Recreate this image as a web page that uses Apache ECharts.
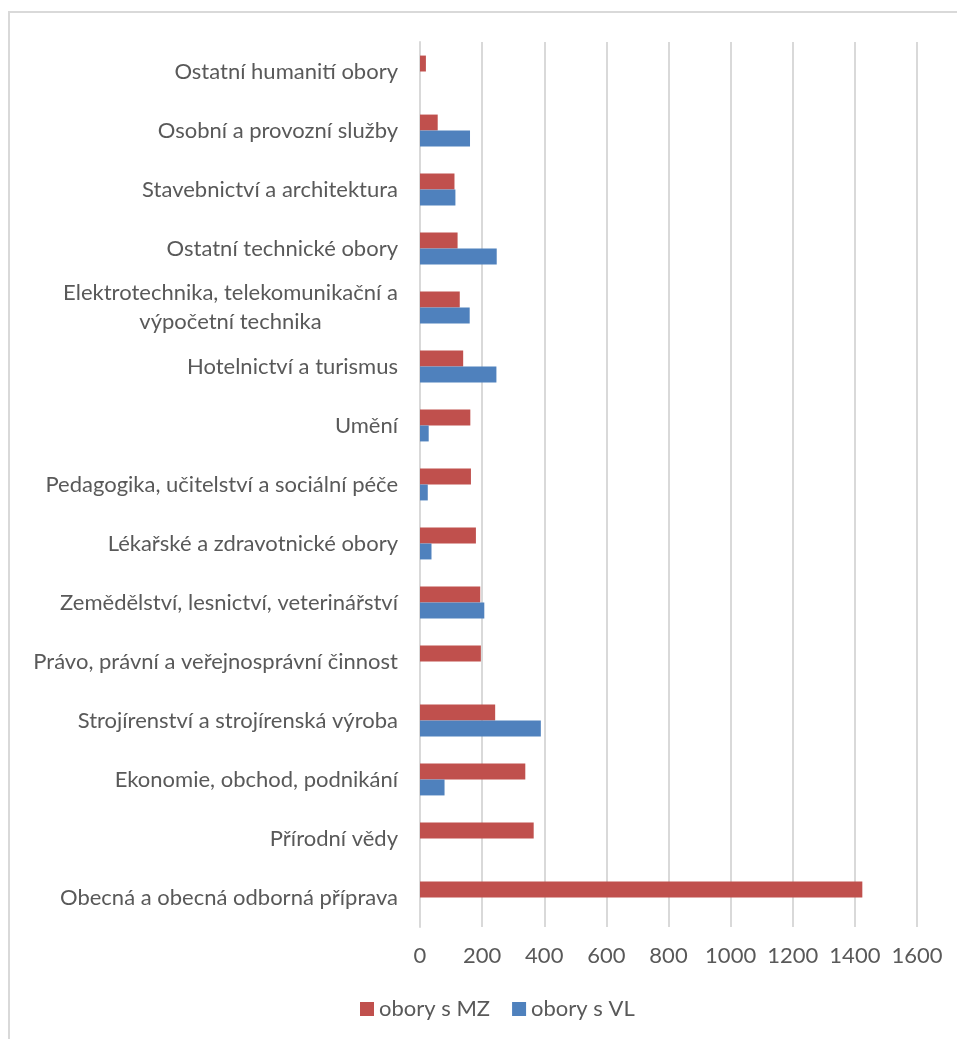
<!DOCTYPE html>
<html>
<head>
<meta charset="utf-8">
<script src="https://cdn.jsdelivr.net/npm/echarts@6/dist/echarts.min.js"></script>
<style>
  html, body { margin: 0; padding: 0; background: #fff; }
  #chart-area { width: 957px; height: 1039px; }
</style>
</head>
<body>
<div id="chart-area"></div>
<script>
// categories listed top to bottom, as in the picture
const categories = [
  'Ostatní humanití obory',
  'Osobní a provozní služby',
  'Stavebnictví a architektura',
  'Ostatní technické obory',
  'Elektrotechnika, telekomunikační a\nvýpočetní technika',
  'Hotelnictví a turismus',
  'Umění',
  'Pedagogika, učitelství a sociální péče',
  'Lékařské a zdravotnické obory',
  'Zemědělství, lesnictví, veterinářství',
  'Právo, právní a veřejnosprávní činnost',
  'Strojírenství a strojírenská výroba',
  'Ekonomie, obchod, podnikání',
  'Přírodní vědy',
  'Obecná a obecná odborná příprava'
];
const oboryMZ = [19, 57, 111, 121, 128, 139, 162, 164, 180, 194, 196, 242, 339, 366, 1424];
const oboryVL = [null, 161, 114, 247, 160, 246, 28, 25, 37, 207, null, 389, 79, null, null];
const seriesNames = ['obory s MZ', 'obory s VL'];

const FONT = 'Lato';
const FS = 22;
const TXT = '#595959';

// width of the widest line of wrapped labels, so the lines can be centred like Excel does
const ctx = document.createElement('canvas').getContext('2d');
ctx.font = FS + 'px ' + FONT;
let wrapWidth = 0;
categories.forEach(c => {
  if (c.indexOf('\n') >= 0) {
    c.split('\n').forEach(l => { wrapWidth = Math.max(wrapWidth, Math.ceil(ctx.measureText(l).width)); });
  }
});

const myChart = echarts.init(document.getElementById('chart-area'));
const option = {
  backgroundColor: '#fff',
  animation: false,
  textStyle: { fontFamily: FONT },
  graphic: [{
    type: 'rect',
    shape: { x: 9, y: 12, width: 1000, height: 1100 },
    style: { fill: 'none', stroke: '#D9D9D9', lineWidth: 2 },
    silent: true
  }],
  legend: {
    data: seriesNames,
    left: 355,
    top: 993,
    itemWidth: 14,
    itemHeight: 14,
    itemGap: 22,
    icon: 'rect',
    textStyle: { color: TXT, fontSize: FS, fontFamily: FONT }
  },
  grid: { left: 420, right: 40, top: 42, bottom: 112, containLabel: false },
  xAxis: {
    type: 'value',
    min: 0,
    max: 1600,
    interval: 200,
    axisLine: { show: false },
    axisTick: { show: false },
    splitLine: { lineStyle: { color: '#D9D9D9', width: 2 } },
    axisLabel: {
      color: TXT, fontSize: FS, fontFamily: FONT, margin: 18,
      formatter: function (v) { return String(v); }
    }
  },
  yAxis: {
    type: 'category',
    inverse: true,
    data: categories,
    axisLine: { lineStyle: { color: '#D9D9D9', width: 2 } },
    axisTick: { show: false },
    axisLabel: {
      color: TXT,
      fontSize: FS,
      fontFamily: FONT,
      margin: 22,
      lineHeight: 29,
      formatter: function (v) {
        if (v.indexOf('\n') < 0) return v;
        return v.split('\n').map(l => '{c|' + l + '}').join('\n');
      },
      rich: {
        c: { width: wrapWidth, align: 'center', color: TXT, fontSize: FS, fontFamily: FONT, lineHeight: 29 }
      }
    }
  },
  series: [
    {
      name: seriesNames[0],
      type: 'bar',
      data: oboryMZ,
      barGap: '0%',
      barCategoryGap: '46%',
      itemStyle: { color: '#C0504D' }
    },
    {
      name: seriesNames[1],
      type: 'bar',
      data: oboryVL,
      itemStyle: { color: '#4F81BD' }
    }
  ]
};
option && myChart.setOption(option);
</script>
</body>
</html>
